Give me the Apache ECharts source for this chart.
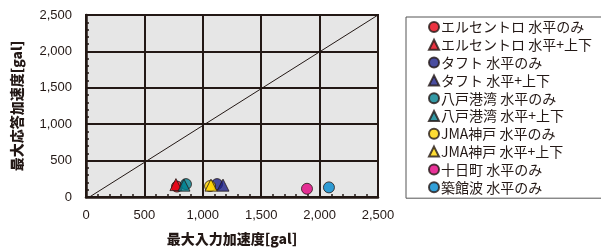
<!DOCTYPE html>
<html>
<head>
<meta charset="utf-8">
<script src="https://cdn.jsdelivr.net/npm/echarts@6/dist/echarts.min.js"></script>
<style>
  html, body { margin: 0; padding: 0; background: #fff; }
  #chart { width: 601px; height: 251px; }
</style>
</head>
<body>
<div id="chart"></div>
<script>
// 系列名（凡例の順）
const seriesNames = [
  "エルセントロ 水平のみ", "エルセントロ 水平+上下",
  "タフト 水平のみ", "タフト 水平+上下",
  "八戸港湾 水平のみ", "八戸港湾 水平+上下",
  "JMA神戸 水平のみ", "JMA神戸 水平+上下",
  "十日町 水平のみ", "築館波 水平のみ"
];
const seriesColors = [
  "#e60012", "#e60012", "#1d2088", "#1d2088", "#00808f", "#00808f",
  "#ffd400", "#ffd400", "#e4007f", "#0088d0"
];
const seriesSymbols = [
  "circle", "triangle", "circle", "triangle", "circle", "triangle",
  "circle", "triangle", "circle", "circle"
];
// [最大入力加速度, 最大応答加速度]
const inputAcc = [779, 770, 1122, 1173, 856, 839, 1062, 1070, 1892, 2080];
const responseAcc = [143, 170, 177, 163, 177, 163, 150, 163, 113, 132];
// 応答 = 入力 の参考線
const refLine = [[30, 0], [2500, 2500]];

const ink = "#231815";
const jp = "Noto Sans CJK JP, sans-serif";
const chart = echarts.init(document.getElementById("chart"));

const series = seriesNames.map((name, i) => ({
  name,
  type: "scatter",
  symbol: seriesSymbols[i],
  symbolSize: seriesSymbols[i] === "triangle" ? 12 : 11,
  itemStyle: { color: seriesColors[i], borderColor: ink, borderWidth: 1 },
  data: [[inputAcc[i], responseAcc[i]]],
  z: 3
}));
series.push({
  type: "line",
  data: refLine,
  showSymbol: false,
  symbol: "none",
  lineStyle: { color: ink, width: 1 },
  silent: true,
  z: 2
});

chart.setOption({
  animation: false,
  textStyle: { fontFamily: "Liberation Sans, Arial, sans-serif" },
  grid: {
    left: 86, top: 15, right: 223, bottom: 52,
    show: true,
    backgroundColor: "#e6e6e6",
    borderColor: ink,
    borderWidth: 2
  },
  legend: {
    data: seriesNames,
    orient: "vertical",
    left: 406,
    top: 17,
    padding: [3, 200, 4, 22],
    itemWidth: 10,
    itemHeight: 10,
    itemGap: 3.8,
    borderColor: "#555",
    borderWidth: 1,
    textStyle: { fontSize: 14, lineHeight: 14, color: ink, fontFamily: jp, padding: [0, 0, 0, -3] }
  },
  xAxis: {
    type: "value",
    min: 0, max: 2500, interval: 500,
    name: "最大入力加速度[gal]",
    nameLocation: "middle",
    nameGap: 35,
    nameTextStyle: { fontSize: 14, fontWeight: 900, color: ink, fontFamily: jp },
    axisLine: { show: true, lineStyle: { color: ink, width: 2.5 } },
    axisTick: { show: true, inside: true, length: 3, lineStyle: { color: ink, width: 1.5 } },
    minorTick: { show: true, splitNumber: 5, length: 3, lineStyle: { color: ink, width: 1.5 } },
    axisLabel: { fontSize: 13, color: ink, margin: 12 },
    splitLine: { show: true, lineStyle: { color: ink, width: 2 } }
  },
  yAxis: {
    type: "value",
    min: 0, max: 2500, interval: 500,
    name: "最大応答加速度[gal]",
    nameLocation: "middle",
    nameGap: 62,
    nameRotate: 90,
    nameTextStyle: { fontSize: 14, fontWeight: 900, color: ink, fontFamily: jp },
    axisLine: { show: true, lineStyle: { color: ink, width: 2.5 } },
    axisTick: { show: true, inside: true, length: 3, lineStyle: { color: ink, width: 1.5 } },
    minorTick: { show: true, splitNumber: 5, length: 3, lineStyle: { color: ink, width: 1.5 } },
    axisLabel: { fontSize: 13, color: ink, margin: 14 },
    splitLine: { show: true, lineStyle: { color: ink, width: 2 } }
  },
  series
});
</script>
</body>
</html>
